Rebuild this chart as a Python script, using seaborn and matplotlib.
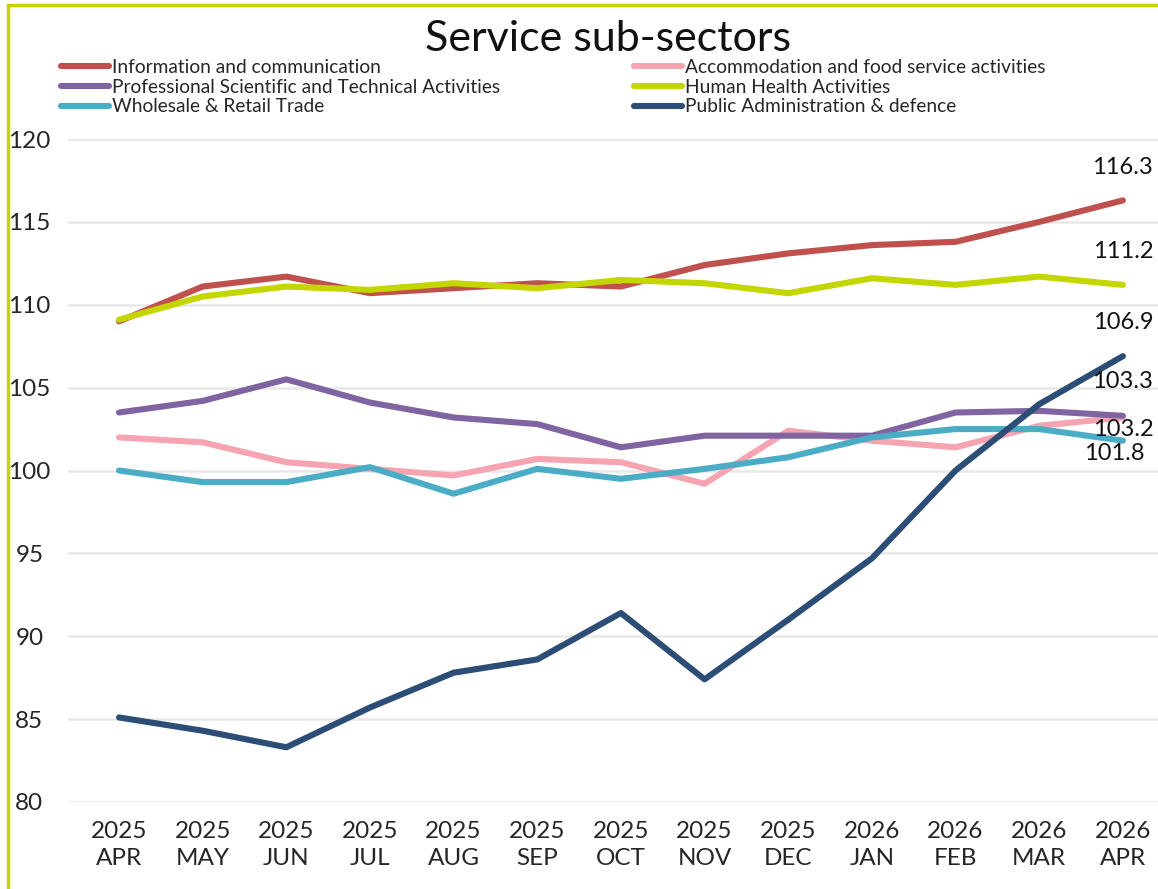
import matplotlib
matplotlib.use("Agg")
import matplotlib.pyplot as plt
import seaborn as sns
import pandas as pd
from matplotlib.patches import Rectangle

# Month labels (year on first line, month on second)
years = ["2025"] * 9 + ["2026"] * 4
months = ["APR", "MAY", "JUN", "JUL", "AUG", "SEP", "OCT", "NOV", "DEC",
          "JAN", "FEB", "MAR", "APR"]

# Index values per sub-sector
info_comm = [109.0, 111.1, 111.7, 110.7, 111.0, 111.3, 111.1, 112.4, 113.1,
             113.6, 113.8, 115.0, 116.3]
accom_food = [102.0, 101.7, 100.5, 100.1, 99.7, 100.7, 100.5, 99.2, 102.4,
              101.8, 101.4, 102.7, 103.2]
professional = [103.5, 104.2, 105.5, 104.1, 103.2, 102.8, 101.4, 102.1, 102.1,
                102.1, 103.5, 103.6, 103.3]
human_health = [109.1, 110.5, 111.1, 110.9, 111.3, 111.0, 111.5, 111.3, 110.7,
                111.6, 111.2, 111.7, 111.2]
wholesale = [100.0, 99.3, 99.3, 100.2, 98.6, 100.1, 99.5, 100.1, 100.8,
             102.0, 102.5, 102.5, 101.8]
public_admin = [85.1, 84.3, 83.3, 85.7, 87.8, 88.6, 91.4, 87.4, 91.0,
                94.7, 100.0, 104.0, 106.9]

series_names = ["Information and communication",
                "Accommodation and food service activities",
                "Professional Scientific and Technical Activities",
                "Human Health Activities",
                "Wholesale & Retail Trade",
                "Public Administration & defence"]
series_values = [info_comm, accom_food, professional, human_health,
                 wholesale, public_admin]
colors = ["#c0504d", "#f6a4b2", "#8064a2", "#c4d600", "#4bacc6", "#2c4d75"]

# End-of-series labels: offsets in points (positive dy = above the point)
end_dy = [24, -9, 25, 24, -9, 24]
end_dx = [0, 0, 0, 0, -6, 0]

sns.set_theme(style="white")
plt.rcParams["font.family"] = ["Lato", "DejaVu Sans"]

rows = []
for name, vals in zip(series_names, series_values):
    for i, v in enumerate(vals):
        rows.append({"idx": i, "value": v, "series": name})
df = pd.DataFrame(rows)

fig = plt.figure(figsize=(11.58, 8.89), dpi=100)
ax = fig.add_axes([0.0587, 0.0979, 0.9413, 0.7457])

sns.lineplot(data=df, x="idx", y="value", hue="series", hue_order=series_names,
             palette=colors, linewidth=4.4, ax=ax, legend=False,
             solid_capstyle="round", solid_joinstyle="round")

ax.set_ylim(80, 120)
ax.set_xlim(-0.61, 12.42)
ax.set_yticks(range(80, 121, 5))
ax.set_xticks(range(len(months)))
ax.set_xticklabels([f"{y}\n{m}" for y, m in zip(years, months)],
                   fontsize=17.5, linespacing=1.3)
ax.tick_params(axis="y", labelsize=17.5, length=0)
ax.tick_params(axis="x", length=0, pad=14)
for lbl in ax.get_yticklabels():
    lbl.set_horizontalalignment("center")
    lbl.set_x(-0.031)
ax.yaxis.grid(True, color="#e8e8e8", linewidth=1.8)
ax.set_axisbelow(True)
for s in ax.spines.values():
    s.set_visible(False)
ax.set_xlabel("")
ax.set_ylabel("")

# Value labels at the last point of each series
last = len(months) - 1
for vals, dy, dx in zip(series_values, end_dy, end_dx):
    ax.annotate(f"{vals[-1]:.1f}", xy=(last, vals[-1]), xytext=(dx, dy),
                textcoords="offset points", ha="center", va="center",
                fontsize=17, color="#111111")

# Legend laid out in two columns (column-wise fill)
handles = ax.get_lines()[:len(series_names)]
order = [0, 2, 4, 1, 3, 5]
fig.legend([handles[i] for i in order], [series_names[i] for i in order],
           ncol=2, loc="upper left", bbox_to_anchor=(0.053, 0.934),
           frameon=False, fontsize=13.8, handlelength=2.5, handletextpad=0.15,
           columnspacing=7.0, labelspacing=0.15, borderpad=0, borderaxespad=0)

fig.text(0.525, 0.956, "Service sub-sectors", ha="center", va="center",
         fontsize=31, color="#111111")

# Frame around the figure
fig.patches.append(Rectangle((8 / 1158, -0.1), 1.2, 1 - 5 / 889 + 0.1,
                             transform=fig.transFigure, fill=False,
                             edgecolor="#c8d400", linewidth=2.5))

fig.savefig("out.png", dpi=100)
